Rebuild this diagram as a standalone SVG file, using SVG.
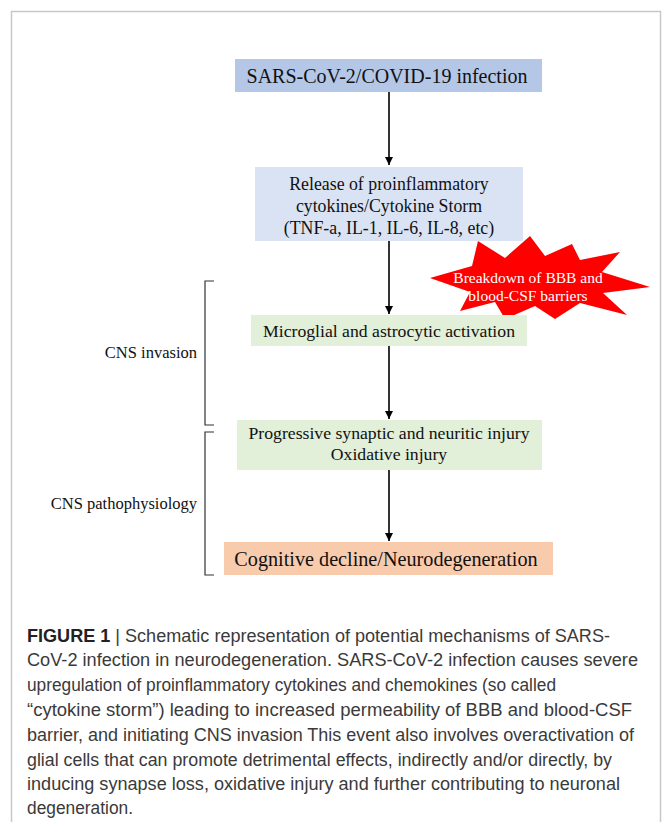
<svg xmlns="http://www.w3.org/2000/svg" width="663" height="822" viewBox="0 0 663 822">
<defs>
<marker id="ah" viewBox="0 0 10 10" refX="10" refY="5" markerWidth="8" markerHeight="8" markerUnits="userSpaceOnUse" orient="auto">
<path d="M0,0 L10,5 L0,10 Z" fill="#000"/>
</marker>
<style>
.serif{font-family:"Liberation Serif","Times New Roman",serif;fill:#111;}
.cap{font-family:"Liberation Sans",Arial,sans-serif;font-size:17.5px;fill:#3a3a3a;}
.conn{stroke:#000;stroke-width:1.6;fill:none;marker-end:url(#ah);}
.br{stroke:#333;stroke-width:1.2;fill:none;}
</style>
</defs>
<rect width="663" height="822" fill="#fff"/>
<rect x="11.5" y="11.5" width="649" height="900" fill="none" stroke="#c8c8c8" stroke-width="1.5"/>

<g id="n1">
<rect x="235" y="59" width="307" height="33" fill="#b4c7e7"/>
<text class="serif" x="387" y="83" font-size="20" text-anchor="middle">SARS-CoV-2/COVID-19  infection</text>
</g>
<g id="n2">
<rect x="255" y="167" width="268" height="74" fill="#dae3f3"/>
<text class="serif" x="389" y="190" font-size="17.8" text-anchor="middle">Release of proinflammatory</text>
<text class="serif" x="389" y="212" font-size="17.8" text-anchor="middle">cytokines/Cytokine  Storm</text>
<text class="serif" x="389" y="234" font-size="17.8" text-anchor="middle">(TNF-a, IL-1, IL-6, IL-8, etc)</text>
</g>
<g id="burst">
<polygon points="430,278 472,266 478,241 505,258 530,236 545,256 572,244 580,260 620,252 602,272 650,287 603,293 627,315 580,303 555,319 535,306 505,319 495,302 460,311 470,292" fill="#ff0000"/>
<text class="serif" x="528" y="283" font-size="15.5" text-anchor="middle" style="fill:#fff">Breakdown  of BBB and</text>
<text class="serif" x="528" y="301" font-size="15.5" text-anchor="middle" style="fill:#fff">blood-CSF barriers</text>
</g>
<g id="n3">
<rect x="251" y="315" width="276" height="31" fill="#e2efd9"/>
<text class="serif" x="389" y="337" font-size="17.7" text-anchor="middle">Microglial  and astrocytic activation</text>
</g>
<g id="n4">
<rect x="237" y="420" width="305" height="50" fill="#e2efd9"/>
<text class="serif" x="389" y="439" font-size="17.7" text-anchor="middle">Progressive synaptic and neuritic  injury</text>
<text class="serif" x="389" y="460" font-size="17.7" text-anchor="middle">Oxidative  injury</text>
</g>
<g id="n5">
<rect x="224" y="542" width="329" height="33" fill="#f8cbad"/>
<text class="serif" x="386" y="566" font-size="20.2" text-anchor="middle">Cognitive  decline/Neurodegeneration</text>
</g>

<g id="brackets">
<path class="br" d="M214,281 H205 V425 H214"/>
<text class="serif" x="197" y="358" font-size="16.5" text-anchor="end">CNS invasion</text>
<path class="br" d="M214,432 H205 V575 H214"/>
<text class="serif" x="197" y="509" font-size="16.5" text-anchor="end">CNS pathophysiology</text>
</g>

<g id="connectors">
<line class="conn" x1="389" y1="92" x2="389" y2="165"/>
<line class="conn" x1="389" y1="241" x2="389" y2="314"/>
<line class="conn" x1="389" y1="346" x2="389" y2="419"/>
<line class="conn" x1="389" y1="470" x2="389" y2="541"/>
</g>

<g id="caption">
<text class="cap" x="27" y="642" textLength="583" lengthAdjust="spacingAndGlyphs"><tspan font-weight="bold" fill="#222">FIGURE 1</tspan> | Schematic representation of potential mechanisms of SARS-</text>
<text class="cap" x="27" y="666" textLength="611" lengthAdjust="spacingAndGlyphs">CoV-2 infection in neurodegeneration. SARS-CoV-2 infection causes severe</text>
<text class="cap" x="27" y="691" textLength="529" lengthAdjust="spacingAndGlyphs">upregulation of proinflammatory cytokines and chemokines (so called</text>
<text class="cap" x="27" y="716" textLength="605" lengthAdjust="spacingAndGlyphs">“cytokine storm”) leading to increased permeability of BBB and blood-CSF</text>
<text class="cap" x="27" y="741" textLength="607" lengthAdjust="spacingAndGlyphs">barrier, and initiating CNS invasion This event also involves overactivation of</text>
<text class="cap" x="27" y="766" textLength="585" lengthAdjust="spacingAndGlyphs">glial cells that can promote detrimental effects, indirectly and/or directly, by</text>
<text class="cap" x="27" y="790" textLength="593" lengthAdjust="spacingAndGlyphs">inducing synapse loss, oxidative injury and further contributing to neuronal</text>
<text class="cap" x="27" y="814" textLength="106" lengthAdjust="spacingAndGlyphs">degeneration.</text>
</g>
</svg>
